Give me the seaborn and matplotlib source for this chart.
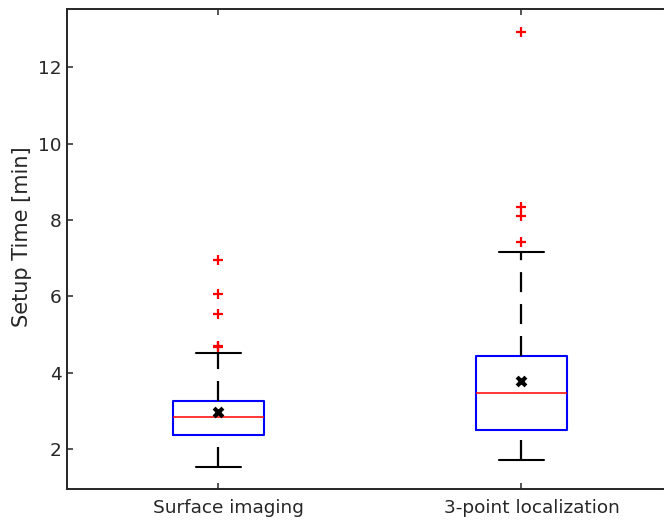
import matplotlib
matplotlib.use("Agg")
import matplotlib.pyplot as plt
import matplotlib.transforms as mtransforms
import pandas as pd
import seaborn as sns

# Setup-time summary per positioning method
groups = ["Surface imaging", "3-point localization"]
q1 = [2.37, 2.51]
medians = [2.85, 3.47]
q3 = [3.26, 4.44]
whisker_low = [1.54, 1.72]
whisker_high = [4.51, 7.15]
means = [2.98, 3.79]
surface_outliers = [4.66, 4.71, 5.54, 6.07, 6.94]
localization_outliers = [7.42, 8.10, 8.33, 12.93]
yticks = [2, 4, 6, 8, 10, 12]

sns.set_theme(style="white")
plt.rcParams["font.family"] = ["DejaVu Sans"]
plt.rcParams["lines.scale_dashes"] = False

ink = "#262626"
fig = plt.figure(figsize=(6.66, 5.21), dpi=100)
# the plot area stretches almost to the right edge of the canvas
ax = fig.add_axes([67 / 666, (521 - 488.7) / 521, 596 / 666, 479.4 / 521])

positions = [1, 2]
stats = [
    dict(label=g, q1=a, med=m, q3=b, whislo=lo, whishi=hi, fliers=[])
    for g, a, m, b, lo, hi in zip(groups, q1, medians, q3, whisker_low, whisker_high)
]
parts = ax.bxp(
    stats,
    positions=positions,
    widths=0.3,
    capwidths=0.15,
    showfliers=False,
    boxprops=dict(color="#0000ff", linewidth=1.5),
    medianprops=dict(color="#ff0000", linewidth=1.1),
    whiskerprops=dict(color="black", linewidth=1.6, linestyle=(0, (14.4, 8.6))),
    capprops=dict(color="black", linewidth=1.5),
    zorder=2,
)
# lower whiskers run upward from the cap to the box
for line in parts["whiskers"][0::2]:
    line.set_xdata(list(line.get_xdata())[::-1])
    line.set_ydata(list(line.get_ydata())[::-1])

flier_df = pd.DataFrame({
    "pos": [1] * len(surface_outliers) + [2] * len(localization_outliers),
    "time": surface_outliers + localization_outliers,
})
sns.scatterplot(data=flier_df, x="pos", y="time", marker="+", color="#ff0000",
                s=60, linewidth=1.6, ax=ax, zorder=3, legend=False)

mean_df = pd.DataFrame({"pos": positions, "time": means})
sns.scatterplot(data=mean_df, x="pos", y="time", marker="x", color="black",
                s=40, linewidth=3, ax=ax, zorder=4, legend=False)

ax.set_xlim(0.5, 2.467)
ax.set_ylim(0.96, 13.52)
ax.set_xticks(positions)
ax.set_xticklabels(groups)
ax.set_yticks(yticks)
ax.set_xlabel("")
ax.set_ylabel("Setup Time [min]", fontsize=15, color=ink)
ax.yaxis.set_label_coords(-0.059, 0.525)

for side in ["left", "top", "bottom"]:
    ax.spines[side].set_visible(True)
    ax.spines[side].set_color(ink)
    ax.spines[side].set_linewidth(1.4)
ax.spines["right"].set_visible(False)

ax.tick_params(axis="both", which="both", direction="in", length=4.3, width=1.1,
               color=ink, labelcolor=ink, labelsize=13.3,
               top=True, right=False, bottom=True, left=True)
ax.tick_params(axis="x", pad=7.5)
ax.tick_params(axis="y", pad=4)

# category labels sit slightly right of their ticks
shift = mtransforms.ScaledTranslation(10 / 100, 0, fig.dpi_scale_trans)
for lab in ax.get_xticklabels():
    lab.set_transform(lab.get_transform() + shift)

fig.savefig("out.png", dpi=100, facecolor="white")
